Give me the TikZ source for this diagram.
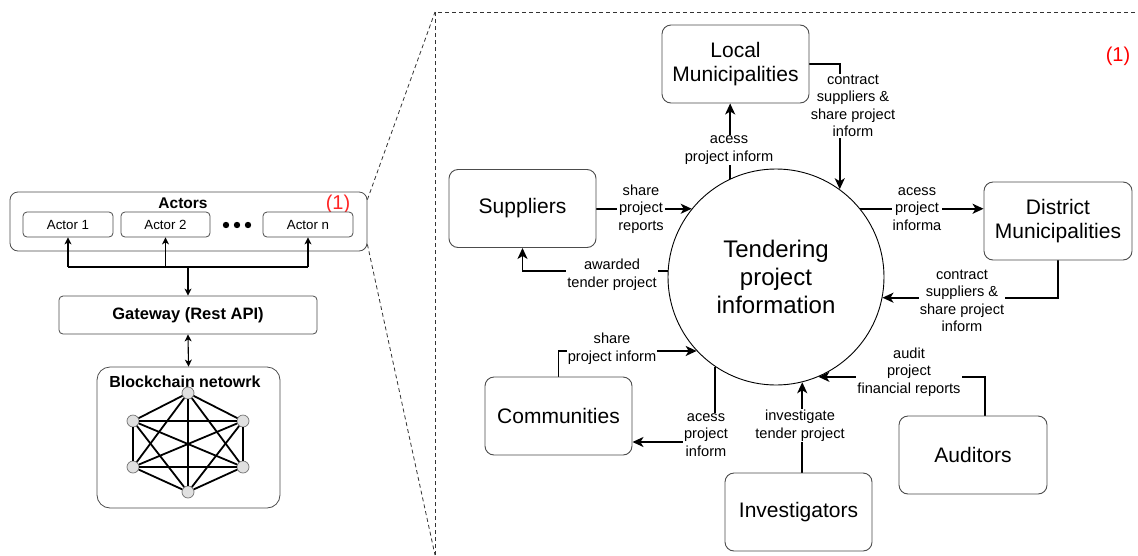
\documentclass[tikz,border=0pt]{standalone}
\usepackage{fontspec}
\setmainfont{Liberation Sans}
\usetikzlibrary{arrows.meta}

\pgfdeclarelayer{flows}
\pgfsetlayers{flows,main}

\tikzset{
  entity/.style={draw=black!70, line width=0.9pt, rounded corners=9pt, fill=white,
    align=center, inner sep=0pt, minimum width=147pt, minimum height=78pt,
    font=\fontsize{21}{24.5}\selectfont},
  abox/.style={draw=black!70, line width=0.8pt, rounded corners=4pt, fill=white,
    align=center, inner sep=0pt},
  actorbox/.style={abox, minimum width=90pt, minimum height=25pt,
    font=\fontsize{13.3}{15}\selectfont},
  conn/.style={line width=1.8pt, -{Stealth[length=11pt,width=10pt,inset=3pt]}},
  lbl/.style={fill=white, inner sep=1pt, align=center,
    font=\fontsize{14.6}{17.5}\selectfont},
  sarr/.style={line width=1.1pt, -{Stealth[length=7pt,width=7pt,inset=2pt]}},
  sline/.style={line width=1.1pt},
  peer/.style={circle, draw=black!55, fill=black!12, line width=0.7pt,
    minimum size=12pt, inner sep=0pt},
  meshline/.style={line width=1.8pt},
  dashedline/.style={line width=0.8pt, black!80, dash pattern=on 4pt off 3pt},
  boldlbl/.style={font=\bfseries\fontsize{16}{19}\selectfont, inner sep=0pt},
  marker/.style={text=red, font=\fontsize{20}{24}\selectfont, inner sep=0pt}
}

\begin{document}
\begin{tikzpicture}[x=1pt,y=-1pt]
\useasboundingbox (0,0) rectangle (1138,555);

% ---------- architecture overview ----------
\node[abox, minimum width=357pt, minimum height=59pt, rounded corners=8pt] (act) at (188.5,221.5) {};
\node[boldlbl, font=\bfseries\fontsize{15.5}{18}\selectfont] (actt) at (183,203) {Actors};
\node[marker, text=red!85] (mk1) at (338,204) {(1)};
\node[actorbox] (a1) at (68,224.5) {Actor 1};
\node[actorbox, minimum width=89pt] (a2) at (165.5,224.5) {Actor 2};
\node[actorbox] (an) at (308,224.5) {Actor n};
\foreach \x [count=\i] in {226,237,248}
  \fill (\x,225) circle (3.2pt) coordinate (dot\i);

\node[abox, minimum width=258pt, minimum height=38pt, font=\bfseries\fontsize{16.5}{19}\selectfont] (gw) at (188,315) {Gateway (Rest API)};
\node[abox, minimum width=183pt, minimum height=141pt, rounded corners=13pt] (bc) at (188.5,437.5) {};
\node[boldlbl] (bct) at (185,382) {Blockchain netowrk};

% actor bus to gateway
\coordinate (j) at (188,267);
\draw[sline] (a1.south |- j) -- (an.south |- j);
\draw[sarr] (a1.south |- j) -- (a1.south);
\draw[sarr] (a2.south |- j) -- (a2.south);
\draw[sarr] (an.south |- j) -- (an.south);
\draw[sarr] (j) -- (gw.north);
\draw[sarr, {Stealth[length=7pt,width=7pt,inset=2pt]}-{Stealth[length=7pt,width=7pt,inset=2pt]}] (gw.south) -- (bc.north);

% fully meshed peers
\node[peer] (p1) at (188,393) {};
\node[peer] (p2) at (133,421) {};
\node[peer] (p3) at (243,421) {};
\node[peer] (p4) at (133,467) {};
\node[peer] (p5) at (243,467) {};
\node[peer] (p6) at (188,492) {};
\foreach \a/\b in {p1/p2,p1/p3,p1/p4,p1/p5,p1/p6,p2/p3,p2/p4,p2/p5,p2/p6,p3/p4,p3/p5,p3/p6,p4/p5,p4/p6,p5/p6}
  \draw[meshline] (\a) -- (\b);

% zoom frame
\coordinate (ft) at (435,12);
\coordinate (fb) at (435,555);
\coordinate (fr) at (1138,12);
\draw[dashedline] (fb) -- (ft) -- (fr);
\draw[dashedline] ([yshift=-8pt]act.north east) -- (ft);
\draw[dashedline] ([yshift=7pt]act.south east) -- (fb);

% ---------- tendering information flows ----------
\node[circle, draw, line width=0.9pt, minimum size=216pt, inner sep=0pt, align=center,
  font=\fontsize{24}{28}\selectfont] (tpi) at (776,277) {Tendering\\project\\information};
\node[marker] (mk2) at (1118,56) {(1)};

\node[entity] (lm)  at (735.5,64)  {Local\\Municipalities};
\node[entity] (sup) at (522.5,208.5) {Suppliers};
\node[entity, minimum width=148pt] (dm)  at (1058,221) {District\\Municipalities};
\node[entity] (com) at (558.5,416) {Communities};
\node[entity] (inv) at (798.5,512) {Investigators};
\node[entity, minimum width=148pt] (aud) at (973,455) {Auditors};

% flows and their labels sit beneath the circle outline
\begin{pgfonlayer}{flows}
\draw[conn] (tpi.115.8) -- (tpi.115.8 |- lm.south);
\draw[conn] (lm.east) -| (tpi.54.3);
\draw[conn] (tpi.39) -- (tpi.39 -| dm.west);
\draw[conn] (dm.south) |- (tpi.-11.8);
\draw[conn] (sup.east |- tpi.141) -- (tpi.141);
\draw[conn] (tpi.177.9) -| (sup.south);
\draw[conn] (com.north) |- (tpi.223.2);
\draw[conn] (tpi.236.9) |- ([yshift=-26pt]com.east);
\draw[conn] (inv.north -| tpi.-76.1) -- (tpi.-76.1);
\draw[conn] ([xshift=12pt]aud.north) |- (tpi.-67.8);

\node[lbl] (l1)  at (729,150)  {acess\\project inform};
\node[lbl] (l2)  at (853,106)  {contract\\suppliers \&\\share project\\inform};
\node[lbl] (l3)  at (917,209)  {acess\\project\\informa};
\node[lbl] (l4)  at (962,301)  {contract\\suppliers \&\\share project\\inform};
\node[lbl] (l5)  at (641,209)  {share\\project\\reports};
\node[lbl] (l6)  at (612,274.5) {awarded\\tender project};
\node[lbl] (l7)  at (612,348.5) {share\\project inform};
\node[lbl] (l8)  at (706,435)  {acess\\project\\inform};
\node[lbl] (l9)  at (800,425.5) {investigate\\tender project};
\node[lbl] (l10) at (909,372)  {audit\\project\\financial reports};
\end{pgfonlayer}
\end{tikzpicture}
\end{document}
